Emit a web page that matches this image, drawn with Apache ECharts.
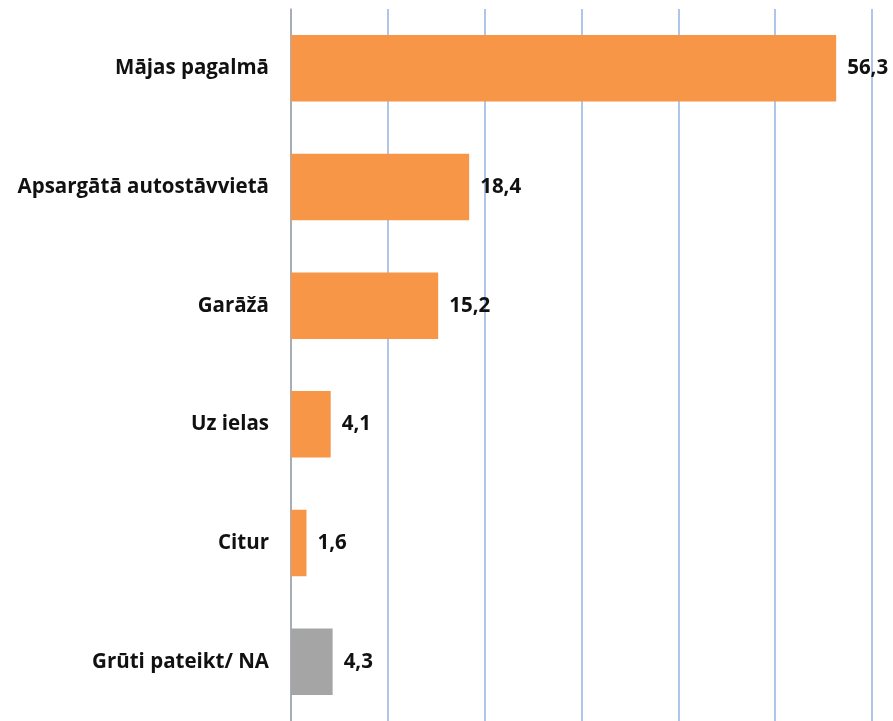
<!DOCTYPE html>
<html>
<head>
<meta charset="utf-8">
<script src="https://cdn.jsdelivr.net/npm/echarts@6/dist/echarts.min.js"></script>
<style>
  html, body { margin: 0; padding: 0; background: #fff; }
  #chart { width: 893px; height: 721px; }
</style>
</head>
<body>
<div id="chart"></div>
<script>
const categories = ['Mājas pagalmā', 'Apsargātā autostāvvietā', 'Garāžā', 'Uz ielas', 'Citur', 'Grūti pateikt/ NA']
const values = [56.3, 18.4, 15.2, 4.1, 1.6, 4.3]
const barColors = ['#f79646', '#f79646', '#f79646', '#f79646', '#f79646', '#a5a5a5']

const chart = echarts.init(document.getElementById('chart'))

const option = {
  backgroundColor: '#fff',
  animation: false,
  grid: { left: 291, right: 21, top: 9, bottom: -2 },
  xAxis: {
    type: 'value',
    min: 0,
    max: 60,
    interval: 10,
    axisLabel: { show: false },
    axisLine: { show: false },
    axisTick: { show: false },
    splitLine: { lineStyle: { color: '#93b3e3', width: 1.5 } }
  },
  yAxis: {
    type: 'category',
    data: categories,
    inverse: true,
    axisLine: { lineStyle: { color: '#a6a6a6', width: 1.5 } },
    axisTick: { show: false },
    axisLabel: {
      margin: 22,
      fontFamily: 'Open Sans',
      fontWeight: 'bold',
      fontSize: 20.5,
      color: '#111'
    }
  },
  series: [{
    type: 'bar',
    data: values.map((v, i) => ({ value: v, itemStyle: { color: barColors[i] } })),
    barWidth: '56%',
    label: {
      show: true,
      position: 'right',
      distance: 11,
      fontFamily: 'Open Sans',
      fontWeight: 'bold',
      fontSize: 20.5,
      color: '#111',
      formatter: p => String(p.value).replace('.', ',')
    }
  }]
}

chart.setOption(option)
</script>
</body>
</html>
